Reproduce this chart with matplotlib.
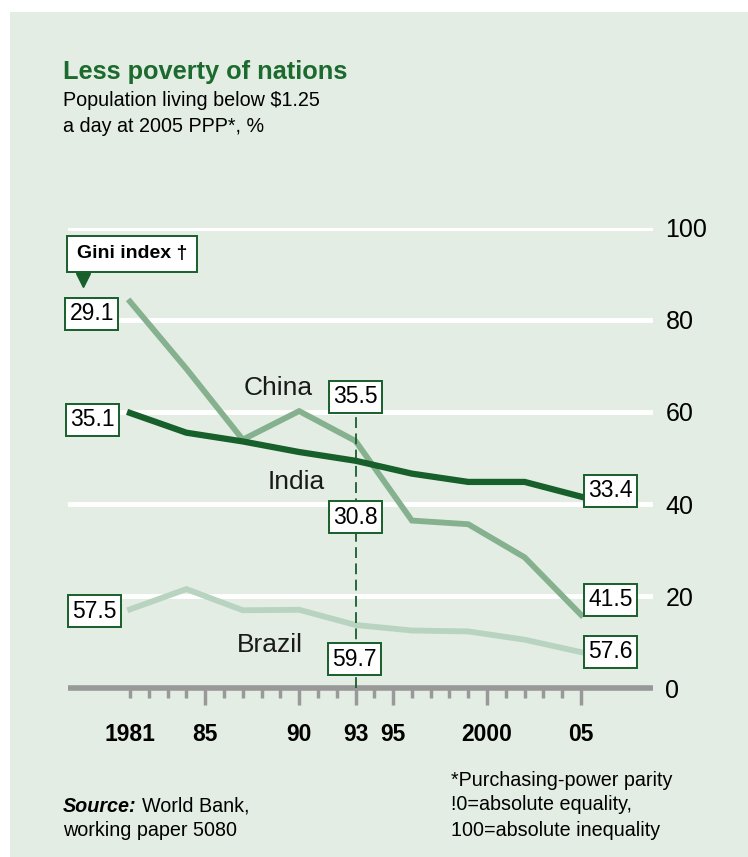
import numpy as np
import matplotlib
matplotlib.use('Agg')
import matplotlib.pyplot as plt
from matplotlib.patches import Rectangle
from matplotlib.lines import Line2D
from matplotlib.ticker import FixedFormatter, FixedLocator

plt.rcParams['font.family'] = ['Liberation Sans', 'DejaVu Sans']

# data (% of population below $1.25 a day)
years = [1981, 1984, 1987, 1990, 1993, 1996, 1999, 2002, 2005]
china = [84.0, 69.4, 54.0, 60.2, 53.7, 36.4, 35.6, 28.4, 15.9]
india = [59.8, 55.5, 53.6, 51.3, 49.4, 46.6, 44.8, 44.8, 41.6]
brazil = [17.1, 21.5, 16.9, 17.0, 13.7, 12.5, 12.3, 10.5, 7.8]

# Gini index values shown in boxes
gini_labels = ['29.1', '35.1', '57.5', '35.5', '30.8', '59.7', '33.4', '41.5', '57.6']

major_years = [1985, 1990, 1993, 1995, 2000, 2005]
major_labels = ['85', '90', '93', '95', '2000', '05']
yticks = [0, 20, 40, 60, 80, 100]

bg = '#e3ede4'
dark = '#175f2b'
mid = '#86b18f'
light = '#b8d4c0'
W, H = 748, 857

fig = plt.figure(figsize=(W / 100, H / 100), dpi=100)
fig.patch.set_facecolor('white')
fig.add_artist(Rectangle((10 / W, 0), 1, 1 - 12 / H, transform=fig.transFigure,
                         facecolor=bg, edgecolor='none', zorder=-10))

def fx(px):
    return px / W

def fy(py):
    return 1 - py / H

ax = fig.add_axes([fx(68), fy(688), (653 - 68) / W, (688 - 228) / H])
ax.set_facecolor('none')
ax.set_xlim(1977.7, 2008.83)
ax.set_ylim(0, 100)

for s in ['top', 'left', 'right']:
    ax.spines[s].set_visible(False)
ax.spines['bottom'].set_color('#999999')
ax.spines['bottom'].set_linewidth(4)
ax.spines['bottom'].set_capstyle('butt')

for v in yticks[1:]:
    ax.axhline(v, color='white', lw=3.5, zorder=1)

ax.yaxis.tick_right()
ax.set_yticks(yticks)
ax.set_yticklabels([str(v) for v in yticks], fontsize=18)
ax.tick_params(axis='y', length=0, pad=9)

all_years = list(range(1981, 2006))
minor_years = [y for y in all_years if y not in major_years]
ax.xaxis.set_major_locator(FixedLocator(major_years))
ax.xaxis.set_major_formatter(FixedFormatter(major_labels))
ax.xaxis.set_minor_locator(FixedLocator(minor_years))
ax.xaxis.set_minor_formatter(FixedFormatter(['1981'] + [''] * (len(minor_years) - 1)))
ax.tick_params(axis='x', which='major', length=12, width=2.5, color='#999999',
               labelsize=16.5, pad=13.5)
ax.tick_params(axis='x', which='minor', length=7.5, width=2.5, color='#999999',
               labelsize=16.5, pad=18)
for lab in ax.get_xticklabels(which='both'):
    lab.set_fontweight('bold')

ax.plot(years, brazil, color=light, lw=4.2, zorder=3, solid_joinstyle='miter')
ax.plot(years, china, color=mid, lw=4.2, zorder=4, solid_joinstyle='miter')
ax.plot(years, india, color=dark, lw=4.5, zorder=5, solid_joinstyle='miter')

# dashed marker at 1993
ax.plot([1993, 1993], [0, 60], color=dark, lw=1.3, ls=(0, (6, 3)), zorder=6, clip_on=False)

def pos(px, py):
    return 1981 + (px - 130.4) / 18.8, (688 - py) / 4.6

box_px = [(92, 314), (93, 420), (95, 611), (356, 397), (356, 517),
          (355, 659), (611, 491), (611, 600), (611, 652)]
for lab, (px, py) in zip(gini_labels, box_px):
    x, y = pos(px, py)
    ax.text(x, y, lab, fontsize=16.5, ha='center', va='center', zorder=10, clip_on=False,
            bbox=dict(boxstyle='square,pad=0.18', facecolor='white', edgecolor=dark, lw=1.4))

for name, (px, py) in zip(['China', 'India', 'Brazil'], [(279, 388), (297, 482), (270, 645)]):
    x, y = pos(px, py)
    ax.text(x, y, name, fontsize=19, ha='center', va='center', color='#1a1a1a', zorder=9)

# Gini index call-out
fig.text(fx(77), fy(254), 'Gini index \u2020', fontsize=14, fontweight='bold',
         ha='left', va='center',
         bbox=dict(boxstyle='square,pad=0.5', facecolor='white', edgecolor=dark, lw=1.4))
fig.add_artist(Line2D([fx(83)], [fy(280)], marker='v', markersize=10, color=dark,
                      transform=fig.transFigure, linestyle='none'))

fig.text(fx(63), fy(72), 'Less poverty of nations', fontsize=18.3, fontweight='bold',
         color='#1d6a2e', ha='left', va='center')
fig.text(fx(63), fy(101), 'Population living below $1.25', fontsize=14.2, ha='left', va='center')
fig.text(fx(63), fy(126), 'a day at 2005 PPP*, %', fontsize=14.2, ha='left', va='center')

fig.text(fx(63), fy(806), 'Source:', fontsize=14.2, fontweight='bold', fontstyle='italic',
         ha='left', va='center')
fig.text(fx(142), fy(806), 'World Bank,', fontsize=14.2, ha='left', va='center')
fig.text(fx(63), fy(831), 'working paper 5080', fontsize=14.2, ha='left', va='center')

fig.text(fx(451), fy(781), '*Purchasing-power parity', fontsize=14.2, ha='left', va='center')
fig.text(fx(451), fy(805), '!0=absolute equality,', fontsize=14.2, ha='left', va='center')
fig.text(fx(451), fy(830), '100=absolute inequality', fontsize=14.2, ha='left', va='center')

fig.savefig('out.png', dpi=100, facecolor='white')
